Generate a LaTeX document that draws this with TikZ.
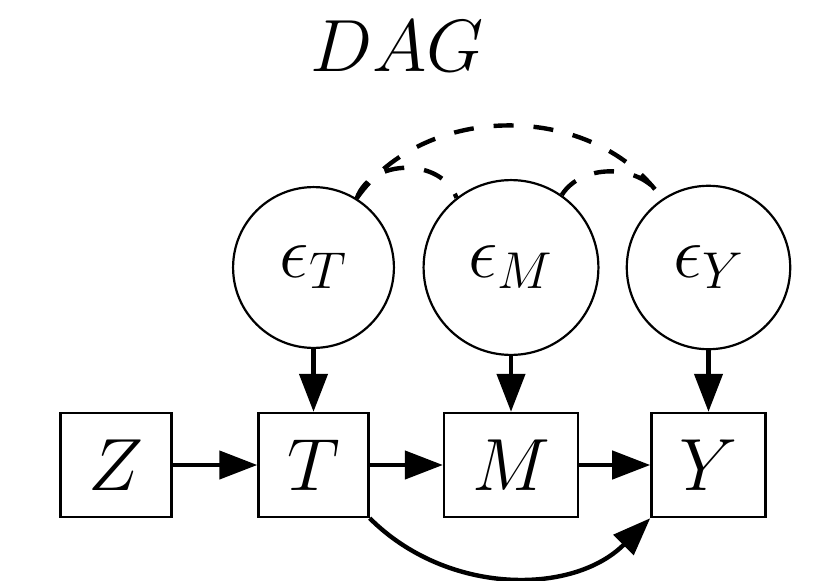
\RequirePackage{fix-cm}
\documentclass[tikz,border=0pt]{standalone}
\usepackage{amsmath}
\usetikzlibrary{arrows.meta, positioning}

\begin{document}
\begin{tikzpicture}[
    node distance=98.75pt,
    every node/.style={font=\fontsize{37}{44}\selectfont},
    observed/.style={rectangle, draw=black, line width=1.2pt, minimum width=55pt, minimum height=52pt, inner xsep=14pt},
    latent/.style={circle, draw=black, line width=1.1pt, inner sep=14.5pt},
    arrow/.style={line width=2.2pt, -{Triangle[length=19pt,width=14pt]}},
    confound/.style={line width=2.2pt, dash pattern=on 10pt off 10pt}
]
\useasboundingbox (-58pt,-57.5pt) rectangle (356.5pt,232.5pt);

% Nodos
\node (Z) [observed] {$Z$};
\node (T) [observed, right of=Z] {$T$};
\node (M) [observed, right of=T] {$M$};
\node (Y) [observed, right of=M] {$Y$};
\node (eT) [latent, above of=T] {$\epsilon_T$};
\node (eM) [latent, above of=M] {$\epsilon_M$};
\node (eY) [latent, above of=Y] {$\epsilon_Y$};
\node (title) at (140.5pt,209.5pt) {$DAG$};

% Flechas
\draw [arrow] (Z) -- (T);
\draw [arrow] (T) -- (M);
\draw [arrow] (M) -- (Y);
\draw [arrow] (eT) -- (T);
\draw [arrow] (eM) -- (M);
\draw [arrow] (eY) -- (Y);
\draw [arrow] (T.south east) to[bend right=45] (Y.south west);
\draw [confound] (eT.58) to[bend left=55] (eY.124);
\draw [confound] (eT.58) to[bend left=70, looseness=1.1] (eM.128);
\draw [confound] (eM.55) to[bend left=60] (eY.124);

\end{tikzpicture}
\end{document}
